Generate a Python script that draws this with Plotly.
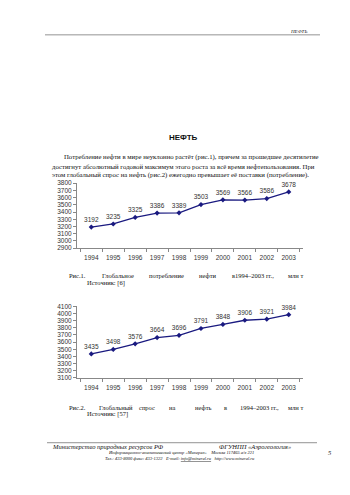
import plotly.graph_objects as go

W, H = 350, 495

years = ["1994", "1995", "1996", "1997", "1998", "1999", "2000", "2001", "2002", "2003"]
consumption = [3192, 3235, 3325, 3386, 3389, 3503, 3569, 3566, 3586, 3678]
demand = [3435, 3498, 3576, 3664, 3696, 3791, 3848, 3906, 3921, 3984]

def px(x):
    return x / W

def py(y):
    return 1 - y / H

fig = go.Figure()

line_color = "#1a1a80"
lbl_font = dict(family="Liberation Sans, Arial", size=6.5, color="#333")

fig.add_trace(go.Scatter(
    x=years, y=consumption, mode="lines+markers+text",
    text=[str(v) for v in consumption], textposition="top center",
    textfont=lbl_font, line=dict(color=line_color, width=1.3),
    marker=dict(symbol="diamond", size=4, color=line_color),
    xaxis="x", yaxis="y", cliponaxis=False, hoverinfo="skip"))

fig.add_trace(go.Scatter(
    x=years, y=demand, mode="lines+markers+text",
    text=[str(v) for v in demand], textposition="top center",
    textfont=lbl_font, line=dict(color=line_color, width=1.3),
    marker=dict(symbol="diamond", size=4, color=line_color),
    xaxis="x2", yaxis="y2", cliponaxis=False, hoverinfo="skip"))

axis_common = dict(showgrid=False, zeroline=False, showline=True, linecolor="#888",
                   linewidth=1, ticks="outside", ticklen=3, tickcolor="#888",
                   tickfont=dict(family="Liberation Sans, Arial", size=6.5, color="#333"))

xdom = [px(77), px(303)]
fig.update_layout(
    width=W, height=H, margin=dict(l=0, r=0, t=0, b=0),
    paper_bgcolor="white", plot_bgcolor="white", showlegend=False,
    xaxis=dict(domain=xdom, anchor="y", type="category", tickson="boundaries",
               tickangle=0, ticklabelstandoff=3, **axis_common),
    yaxis=dict(domain=[py(247.7), py(181.7)], anchor="x", range=[2900, 3800], dtick=100,
               **axis_common),
    xaxis2=dict(domain=xdom, anchor="y2", type="category", tickson="boundaries",
                tickangle=0, ticklabelstandoff=3, **axis_common),
    yaxis2=dict(domain=[py(379.3), py(306.7)], anchor="x2", range=[3100, 4100], dtick=100,
                **axis_common),
)

serif = "Liberation Serif, Times New Roman"
anns = []

def txt(x, y, s, size=7, family=serif, anchor="left", italic=False, bold=False, color="#111"):
    if bold:
        s = "<b>" + s + "</b>"
    if italic:
        s = "<i>" + s + "</i>"
    anns.append(dict(x=px(x), y=py(y), xref="paper", yref="paper", text=s, showarrow=False,
                     xanchor=anchor, yanchor="middle", font=dict(family=family, size=size, color=color)))

# header
txt(309, 28, "НЕФТЬ", size=5, italic=True, anchor="right")
# title
txt(183, 135, "НЕФТЬ", size=8, family="Liberation Sans, Arial", bold=True, anchor="center")
# paragraph
txt(62, 155, "Потребление нефти в мире неуклонно растёт (рис.1), причем за прошедшее десятилетие", size=6.75)
txt(50, 164.5, "достигнут абсолютный годовой максимум этого роста за всё время нефтепользования. При", size=6.75)
txt(50, 173.7, "этом глобальный спрос на нефть (рис.2) ежегодно превышает её поставки (потребление).", size=6.75)

# caption 1
for x, w in [(66.7, "Рис.1."), (100, "Глобальное"), (146.7, "потребление"), (196.7, "нефти"),
             (230, "в1994–2003 гг.,"), (286, "млн т")]:
    txt(x, 275.7, w, size=6.5)
txt(85, 283, "Источник: [6]", size=6.5)

# caption 2
for x, w in [(66.7, "Рис.2."), (96.7, "Глобальный"), (136.7, "спрос"), (166.7, "на"), (193.3, "нефть"),
             (221.7, "в"), (238.3, "1994–2003 гг.,"), (286, "млн т")]:
    txt(x, 409, w, size=6.5)
txt(85, 416, "Источник: [57]", size=6.5)

# footer
txt(50, 449, "Министерство природных ресурсов РФ", size=6.5, italic=True)
txt(217, 449, "ФГУНПП «Аэрогеология»", size=6.5, italic=True)
txt(181, 455, "Информационно-аналитический центр «Минерал»&nbsp;&nbsp;&nbsp; Москва 117465 а/я 221",
    size=4.5, italic=True, anchor="center")
txt(180, 460.7, "Тел.: 433-8000 факс: 433-1322&nbsp;&nbsp; E-mail: <u>info@mineral.ru</u>&nbsp;&nbsp; http://www.mineral.ru",
    size=4.5, italic=True, anchor="center")
txt(330, 455, "5", size=6.5, italic=True, anchor="center")

fig.update_layout(annotations=anns, shapes=[
    dict(type="line", xref="paper", yref="paper", x0=px(45), x1=px(320), y0=py(31.3), y1=py(31.3),
         line=dict(color="#777", width=0.8)),
    dict(type="line", xref="paper", yref="paper", x0=px(47), x1=px(317), y0=py(445), y1=py(445),
         line=dict(color="#777", width=0.8)),
])

fig.write_html("out.html")
